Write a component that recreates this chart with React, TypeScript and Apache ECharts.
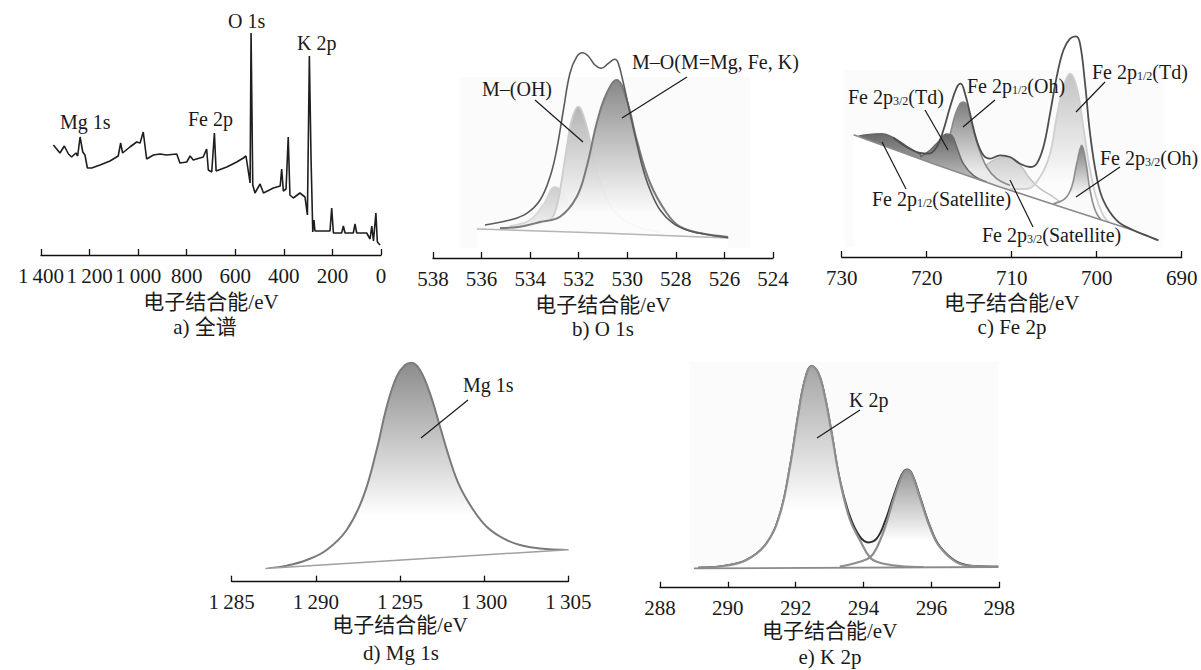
import React, { useEffect, useRef } from "react";
import * as echarts from "echarts";

// ---------- data (binding energy eV, intensity a.u.) ----------
const surveyXPS: number[][] = [
  [1349,110],[1322,102],[1304,109],[1287,101],[1274,98],[1256,102],[1249,99],[1239,118],[1228,103],[1219,100],
  [1209,87],[1191,87],[1157,90],[1116,94],[1082,99],[1072,112],[1064,102],[1034,108],[1006,113],[992,112],
  [979,123],[965,96],[937,100],[910,101],[883,100],[841,101],[828,92],[800,93],[786,99],[773,95],
  [732,98],[718,106],[711,85],[697,83],[686,122],[679,84],[635,88],[594,93],[567,97],[556,99],
  [539,72],[535,222],[528,70],[519,62],[498,71],[484,62],[443,67],[415,69],[409,86],[402,64],
  [391,66],[382,118],[375,60],[361,57],[334,62],[313,58],[303,40],[295,199],[288,96],[281,23],
  [276,35],[272,24],[210,24],[203,47],[196,22],[162,22],[155,29],[148,22],[114,22],[107,31],
  [100,22],[59,22],[45,16],[38,29],[31,14],[21,42],[15,13],[4,10]
];

const o1sEnvelope: number[][] = [
  [535.86,33],[534.83,38],[534.14,44.7],[533.59,58],[533.18,81.3],[532.91,108],[532.63,148],[532.36,184.7],
  [532.08,201.3],[531.84,205.3],[531.61,202],[531.33,193],[531.06,189.7],[530.78,194.7],[530.51,198.7],
  [530.37,194.7],[530.16,174.7],[529.89,144.7],[529.61,114.7],[529.34,88],[529.06,68],[528.65,48],
  [528.11,34.7],[527.42,27],[526.59,23],[525.84,20.3]
];
const o1sMetalOxide: number[][] = [
  [535.24,30],[534.42,31.3],[533.59,36],[532.77,41.3],[532.08,61.3],[531.67,91.3],[531.26,134.7],[530.88,163],
  [530.44,178],[530.02,158],[529.61,118],[529.06,75],[528.38,45],[527.83,31.3],[527.0,25],[525.85,21]
];
const o1sHydroxide: number[][] = [
  [535.24,30],[534.01,32],[533.18,38],[532.91,51.3],[532.70,78],[532.49,111.3],[532.29,138],[532.02,151.3],
  [531.67,131.3],[531.40,101.3],[530.99,68],[530.44,44.7],[529.61,31.3],[528.65,26.3]
];
const o1sMinor: number[][] = [
  [534.83,32],[534.01,38],[533.47,53],[532.98,71.3],[532.65,65],[532.36,48],[531.95,36],[531.12,30]
];
const o1sBaseline: number[][] = [[536.19,29],[531.12,25],[525.85,20]];

const feEnvelope: number[][] = [
  [723.92,119.3],[722.35,110],[720.78,104],[719.80,103.3],[718.82,110],[718.04,126.7],[717.25,150],
  [716.47,169.3],[716.00,173.3],[715.49,163.3],[714.90,143.3],[714.12,116.7],[713.33,101.7],[712.55,98.3],
  [711.37,101.7],[710.20,100],[709.02,93.3],[707.84,90],[707.06,93.3],[706.27,110],[705.49,143.3],
  [704.71,180],[703.92,206.7],[703.14,218.3],[702.43,220.7],[701.96,213.3],[701.37,173.3],[700.78,123.3],
  [700.00,80],[699.22,56.7],[697.65,36.7],[695.69,26.7],[693.73,20],[692.75,16.7]
];
const feBaseline: number[][] = [[728.6,122.2],[719.22,93.3],[711.37,70],[703.53,48.3],[695.69,26.7],[692.75,16.7]];
const feSat12: number[][] = [
  [728.04,120.7],[727.06,122.3],[725.29,123.3],[723.92,119.3],[722.35,110.7],[720.78,102.7],[719.22,95],[717.65,90]
];
const feTd32: number[][] = [
  [720.78,100],[719.61,106.7],[718.63,115.3],[717.65,123],[717.06,121.7],[716.47,110],[715.69,93.3],[714.51,81.7],[712.94,75]
];
const feOh12: number[][] = [
  [719.60,97],[718.43,100],[717.45,117],[716.67,141.7],[716.08,153.3],[715.69,155],[715.29,151.7],[714.71,133.3],
  [713.92,110],[712.94,90],[711.76,78.3],[710.20,71.7]
];
const feSat32: number[][] = [
  [714.51,81.7],[713.33,90],[712.16,96.7],[710.98,100],[709.80,98.3],[708.82,90],[707.84,78.3],[706.67,68.3],
  [705.10,60],[703.50,49]
];
const feTd12: number[][] = [
  [710.20,68],[708.24,68],[706.67,80],[705.49,103.3],[704.71,140],[703.92,170],[703.14,183.3],[702.35,170],
  [701.57,130],[700.78,86.7],[699.80,53.3],[698.43,33.3],[695.69,23.3],[693.33,18]
];
const feOh32: number[][] = [
  [705.10,53.3],[703.73,58.3],[702.94,70],[702.35,93.3],[701.76,111.7],[701.25,93.3],[700.78,66.7],[700.00,43.3],[698.82,32]
];

const mgPeak: number[][] = [
  [1287.18,13.3],[1288.27,16],[1289.46,21.7],[1290.64,31.7],[1291.83,51.7],[1292.82,85],[1293.61,131.7],
  [1294.21,175],[1294.80,205],[1295.30,216.7],[1295.69,219],[1296.19,211.7],[1296.78,188.3],[1297.38,155],
  [1297.97,121.7],[1298.56,95],[1299.36,71.7],[1300.15,55],[1301.14,43.3],[1302.13,36.7],[1303.32,33.3],[1305,31.7]
];
const mgBaseline: number[][] = [[1287.0,13.2],[1305,32]];

const kEnvelope: number[][] = [
  [289.13,20],[289.87,21.7],[290.55,27.7],[291.14,44.3],[291.54,74.3],[291.83,121],[292.08,174.3],[292.27,207.7],
  [292.47,221.7],[292.67,214.3],[292.86,191],[293.06,154.3],[293.30,107.7],[293.60,71],[293.89,51],[294.14,45.3],
  [294.39,49.3],[294.63,66],[294.88,91],[295.12,112.7],[295.27,118.3],[295.42,114.3],[295.66,91],[295.96,61],
  [296.25,41],[296.74,26],[297.23,21.7],[297.97,21]
];
const kPeak1: number[][] = [
  [289.13,20],[289.87,21.7],[290.55,27.7],[291.14,44.3],[291.54,74.3],[291.83,121],[292.08,174.3],[292.27,207.7],
  [292.47,221.7],[292.67,214.3],[292.86,191],[293.06,154.3],[293.30,107.7],[293.60,67.7],[293.89,47.7],
  [294.19,30.3],[294.48,25],[295.07,21.7],[295.76,20.7]
];
const kPeak2: number[][] = [
  [293.30,21],[293.89,26],[294.19,30.3],[294.39,40],[294.63,60],[294.88,88],[295.12,111],[295.27,117.5],
  [295.42,113.5],[295.66,90],[295.96,60],[296.25,40.5],[296.74,25.5],[297.23,21.5],[297.97,21]
];
const kBaseline: number[][] = [[289.0,19.3],[297.97,20.7]];

// ---------- styling ----------
const FONT = "'Liberation Serif', 'Times New Roman', 'Noto Sans CJK SC', serif";
const AXIS_NAME = "电子结合能/eV";

const fmtThousands = (v: number) =>
  v >= 1000 ? `${Math.floor(v / 1000)}\u2009${String(v % 1000).padStart(3, "0")}` : String(v);

function grad(top: string, bottom: string, stop = 1) {
  return new echarts.graphic.LinearGradient(0, 0, 0, 1, [
    { offset: 0, color: top },
    { offset: stop, color: bottom },
    { offset: 1, color: bottom },
  ]);
}

function xAxis(gridIndex: number, min: number, max: number, interval: number, inverse: boolean, nameGap: number, formatter?: (v: number) => string) {
  return {
    type: "value", gridIndex, min, max, interval, inverse, z: 10,
    name: AXIS_NAME, nameLocation: "middle", nameGap,
    nameTextStyle: { fontSize: 21, fontFamily: FONT, color: "#1a1a1a" },
    axisLine: { show: true, onZero: false, lineStyle: { color: "#111", width: 1.3 } },
    axisTick: { show: true, inside: true, length: 6, lineStyle: { color: "#111", width: 1.3 } },
    axisLabel: { fontSize: 21, fontFamily: FONT, color: "#1a1a1a", margin: 10, formatter: formatter || ((v: number) => String(v)) },
    splitLine: { show: false },
  };
}
function yAxis(gridIndex: number, max: number) {
  return { type: "value", gridIndex, min: 0, max, show: false, splitLine: { show: false } };
}
function curve(idx: number, data: number[][], color: string, width: number, z: number, fill?: any, smooth: boolean | number = 0.4) {
  const s: any = {
    type: "line", xAxisIndex: idx, yAxisIndex: idx, data, showSymbol: false, symbol: "none",
    smooth, silent: true, z,
    lineStyle: { color, width },
  };
  if (fill) s.areaStyle = { color: fill, origin: "start", opacity: 1 };
  return s;
}
// baseline: drawn with an opaque white area below it so component fills stop at the baseline
function baseline(idx: number, data: number[][], color: string, width: number, z: number) {
  return curve(idx, data, color, width, z, "#ffffff", false);
}
function label(x: number, y: number, text: string, rich = false) {
  const style: any = {
    text, x: 0, y: 0, fill: "#1a1a1a", fontSize: 20, fontFamily: FONT, align: "left", verticalAlign: "middle",
  };
  if (rich) {
    style.rich = {
      n: { fontSize: 20, fontFamily: FONT, fill: "#1a1a1a" },
      s: { fontSize: 12, fontFamily: FONT, fill: "#1a1a1a", verticalAlign: "bottom", padding: [8, 0, 0, 0] },
    };
  }
  return { type: "text", x, y, z: 100, style };
}
function leader(x1: number, y1: number, x2: number, y2: number) {
  return { type: "line", z: 100, shape: { x1, y1, x2, y2 }, style: { stroke: "#1a1a1a", lineWidth: 1.2 } };
}
function caption(x: number, y: number, text: string) {
  return { type: "text", x, y, z: 100, style: { text, fill: "#1a1a1a", fontSize: 21, fontFamily: FONT, align: "center", verticalAlign: "middle" } };
}
const sub = (a: string, s: string, b: string) => `{n|${a}}{s|${s}}{n|${b}}`;

export default function App() {
  const ref = useRef<HTMLDivElement>(null);
  useEffect(() => {
    if (!ref.current) return;
    const chart = echarts.init(ref.current, null, { renderer: "svg" });
    const option: any = {
      animation: false,
      backgroundColor: "#ffffff",
      grid: [
        { left: 41, top: 10, width: 340, height: 245 },
        { left: 433, top: 8, width: 340, height: 250 },
        { left: 841.7, top: 7, width: 340, height: 250 },
        { left: 231.7, top: 340, width: 336.6, height: 241.7 },
        { left: 660, top: 340, width: 339.3, height: 247.7 },
      ],
      xAxis: [
        xAxis(0, 0, 1400, 200, true, 36, fmtThousands),
        xAxis(1, 524, 538, 2, true, 36),
        xAxis(2, 690, 730, 10, true, 35),
        xAxis(3, 1285, 1305, 5, false, 33, fmtThousands),
        xAxis(4, 288, 298, 2, false, 33),
      ],
      yAxis: [yAxis(0, 245), yAxis(1, 250), yAxis(2, 250), yAxis(3, 241.7), yAxis(4, 247.7)],
      series: [
        // a) survey
        curve(0, surveyXPS, "#1e1e1e", 1.6, 5, undefined, false),
        // b) O 1s
        curve(1, o1sMinor, "#d6d6d6", 1.5, 3, grad("rgba(205,205,205,1)", "rgba(250,250,250,1)", 0.75)),
        curve(1, o1sHydroxide, "#cdcdcd", 1.8, 4, grad("rgba(180,180,180,1)", "rgba(250,250,250,0.9)", 0.7)),
        curve(1, o1sMetalOxide, "#7a7a7a", 2, 5, grad("rgba(135,135,135,1)", "rgba(252,252,252,0.9)", 0.75)),
        baseline(1, o1sBaseline, "#b5b5b5", 1.5, 6),
        curve(1, o1sEnvelope, "#5a5a5a", 1.6, 7),
        // c) Fe 2p
        curve(2, feSat12, "#666", 1.5, 3, grad("rgba(105,105,105,1)", "rgba(170,170,170,1)", 0.3)),
        curve(2, feSat32, "#c2c2c2", 1.5, 3, grad("rgba(205,205,205,1)", "rgba(250,250,250,1)", 0.45)),
        curve(2, feTd12, "#cfcfcf", 1.8, 3, grad("rgba(195,195,195,1)", "rgba(252,252,252,1)", 0.6)),
        curve(2, feOh12, "#8a8a8a", 1.6, 4, grad("rgba(125,125,125,1)", "rgba(235,235,235,1)", 0.45)),
        curve(2, feTd32, "#6a6a6a", 1.6, 5, grad("rgba(100,100,100,1)", "rgba(200,200,200,1)", 0.4)),
        curve(2, feOh32, "#8c8c8c", 1.6, 5, grad("rgba(125,125,125,1)", "rgba(250,250,250,1)", 0.45)),
        baseline(2, feBaseline, "#8a8a8a", 1.6, 6),
        curve(2, feEnvelope, "#4e4e4e", 1.8, 7),
        // d) Mg 1s
        curve(3, mgPeak, "#7a7a7a", 2, 4, grad("rgba(140,140,140,1)", "rgba(255,255,255,1)", 0.7)),
        baseline(3, mgBaseline, "#a0a0a0", 1.5, 6),
        // e) K 2p
        curve(4, kEnvelope, "#2e2e2e", 2, 3),
        curve(4, kPeak1, "#8e8e8e", 2.2, 4, grad("rgba(165,165,165,1)", "rgba(255,255,255,1)", 0.65)),
        curve(4, kPeak2, "#8e8e8e", 2.2, 4, grad("rgba(150,150,150,1)", "rgba(255,255,255,1)", 0.6)),
        baseline(4, kBaseline, "#8a8a8a", 1.8, 6),
      ],
      graphic: [
        { type: "rect", z: -10, shape: { x: 460, y: 77, width: 290, height: 171 }, style: { fill: "#fbfbfb" } },
        { type: "rect", z: -10, shape: { x: 845, y: 70, width: 318, height: 177 }, style: { fill: "#fbfbfb" } },
        { type: "rect", z: -10, shape: { x: 690, y: 362, width: 308, height: 211 }, style: { fill: "#fbfbfb" } },
        // a
        label(228, 21, "O 1s"),
        label(297, 43, "K 2p"),
        label(188, 119, "Fe 2p"),
        label(60, 122, "Mg 1s"),
        // b
        label(482, 89, "M–(OH)"),
        leader(535, 100, 583, 142),
        label(632, 62, "M–O(M=Mg, Fe, K)"),
        leader(687, 77, 622, 118),
        // c
        label(1092, 72, sub("Fe 2p", "1/2", "(Td)"), true),
        leader(1105, 82, 1076, 112),
        label(967, 86, sub("Fe 2p", "1/2", "(Oh)"), true),
        leader(995, 100, 963, 127),
        label(848, 97, sub("Fe 2p", "3/2", "(Td)"), true),
        leader(925, 110, 948, 150),
        label(872, 199, sub("Fe 2p", "1/2", "(Satellite)"), true),
        leader(882, 142, 906, 189),
        label(982, 235, sub("Fe 2p", "3/2", "(Satellite)"), true),
        leader(1010, 180, 1033, 227),
        label(1100, 158, sub("Fe 2p", "3/2", "(Oh)"), true),
        leader(1120, 167, 1076, 197),
        // d
        label(463, 385, "Mg 1s"),
        leader(468, 400, 421, 438),
        // e
        label(849, 400, "K 2p"),
        leader(860, 410, 817, 438),
        // captions
        caption(205, 327, "a) 全谱"),
        caption(603, 329, "b) O 1s"),
        caption(1012, 327, "c) Fe 2p"),
        caption(401, 653, "d) Mg 1s"),
        caption(830, 657, "e) K 2p"),
      ],
    };
    chart.setOption(option);
    return () => chart.dispose();
  }, []);
  return <div ref={ref} style={{ position: "absolute", left: 0, top: 0, width: 1201, height: 670 }} />;
}
